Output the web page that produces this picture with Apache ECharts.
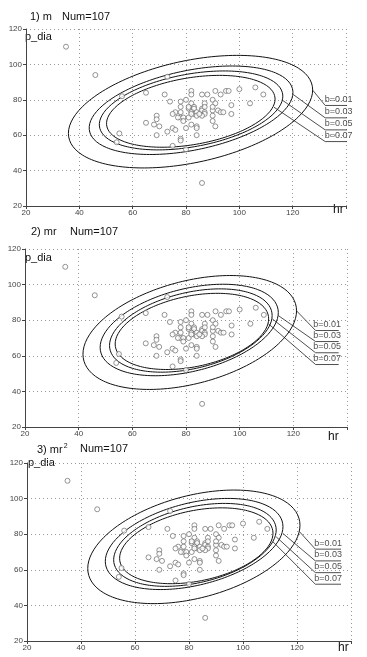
<!DOCTYPE html>
<html><head><meta charset="utf-8">
<script src="https://cdn.jsdelivr.net/npm/echarts@6/dist/echarts.min.js"></script>
<style>html,body{margin:0;padding:0;background:#fff}#c{width:367px;height:657px}</style>
</head><body><div id="c"></div><script>
// scatter data (hr, p_dia)
const hr = [35,46,56,55,54,65,65,73,86,
  72,82,82,86,88,91,93,95,96,100,106,109,104,
  74,78,80,82,83,87,90,91,97,
  83,86,81,76,75,78,82,83,84,86,87,90,92,93,94,97,
  78,79,81,82,84,87,90,79,69,69,68,70,75,76,73,80,82,84,84,90,91,69,78,78,84,75,80,
  78,81,90,87,86,77,85];
const pDia = [110,94,82,61,56,84,67,93,33,
  83,85,83,83,83,85,83,85,85,86,87,83,78,
  79,79,80,78,76,78,80,78,77,
  75,75,75,73,72,73,73,72,73,74,73,74,74,73,73,72,
  70,70,70,72,71,72,71,68,71,69,66,65,64,63,62,64,66,65,64,68,65,60,58,57,60,54,52,
  76,76,76,76,71,70,72];

const levels = ['b=0.01','b=0.03','b=0.05','b=0.07'];
const panelTitles = ['1) m','2) mr','3) mr{sup|2}'];
const numText = 'Num=107';
const xTicks = [20,40,60,80,100,120];
const yTicks = [20,40,60,80,100,120];

// ellipse per level: [centre hr, centre p_dia, half width, half height, cos(phase) = tilt]
const ellipses = [
  [[81.7,73.3,45.8,31.8,0.385],[81.9,74.1,38.2,25.0,0.40],[81.9,74.0,34.4,22.3,0.36],[81.8,73.5,31.6,20.3,0.34]],
  [[81.4,73.1,39.8,32.0,0.38],[81.2,74.5,33.2,25.7,0.38],[81.8,74.2,30.3,23.4,0.36],[82.2,73.7,28.6,21.4,0.33]],
  [[81.8,72.9,39.3,31.9,0.38],[81.9,74.5,32.9,25.6,0.38],[82.2,74.0,30.1,23.3,0.36],[82.7,73.5,28.4,21.3,0.33]]
];
// leader lines per level: [start hr, start p_dia, elbow hr, underline p_dia, end hr]
const leaders = [
  [[127.6,85.3,132.2,76.8,142.3],[120.2,83.0,132.2,69.8,142.3],[116.3,79.6,132.2,63.0,142.3],[113.0,75.8,132.2,56.4,142.3]],
  [[121.1,85.4,128.3,74.2,136.9],[114.4,82.6,128.3,68.0,136.9],[112.2,80.7,128.3,61.7,136.9],[110.7,78.0,128.3,55.1,136.9]],
  [[121.0,81.3,126.8,71.6,136.3],[114.8,80.4,126.8,65.0,136.3],[112.3,78.5,126.8,58.4,136.3],[111.1,75.7,126.8,51.9,136.3]]
];

const grids = [
  {left:26, top:29, width:320, height:177},
  {left:25, top:249, width:322, height:178},
  {left:27, top:463, width:324, height:178}
];
const titlePos = [[30,11,62],[31,226,70],[37,443,80]];
const pdiaPos = [[25,31],[25,252],[28,457]];
const hrPos = [[333,204],[328,431],[338,642]];

const FONT = '"Liberation Sans", Arial, sans-serif';
const chart = echarts.init(document.getElementById('c'), null, {renderer:'canvas'});

function ellipsePts(e){
  const [cx,cy,a,b,c] = e; const d = Math.acos(c); const pts = [];
  for (let i=0;i<=180;i++){ const t = i/180*2*Math.PI; pts.push([cx + a*Math.cos(t), cy + b*Math.cos(t + d)]); }
  return pts;
}

const xAxis = [], yAxis = [], series = [], title = [], graphic = [];
grids.forEach((g,i)=>{
  xAxis.push({gridIndex:i, type:'value', min:20, max:140, interval:20,
    axisLine:{show:true,onZero:false,lineStyle:{color:'#444',width:1}},
    axisTick:{show:true,length:3,lineStyle:{color:'#444'}},
    axisLabel:{fontSize:8,color:'#444',margin:3,fontFamily:FONT,formatter:v=>xTicks.includes(v)?String(v):''},
    splitLine:{show:true,lineStyle:{type:[1,3],color:'#999',width:1}}});
  yAxis.push({gridIndex:i, type:'value', min:20, max:120, interval:20,
    axisLine:{show:true,onZero:false,lineStyle:{color:'#444',width:1}},
    axisTick:{show:true,length:3,lineStyle:{color:'#444'}},
    axisLabel:{fontSize:8,color:'#444',margin:4,fontFamily:FONT,formatter:v=>yTicks.includes(v)?String(v):''},
    splitLine:{show:true,lineStyle:{type:[1,3],color:'#999',width:1}}});
  ellipses[i].forEach(e=>{
    series.push({type:'line', xAxisIndex:i, yAxisIndex:i, data:ellipsePts(e), symbol:'none', smooth:false,
      lineStyle:{color:'#111',width:1}, silent:true, clip:false, z:2});
  });
  leaders[i].forEach((l,k)=>{
    const [sx,sy,ex,uy,endx] = l;
    series.push({type:'line', xAxisIndex:i, yAxisIndex:i, symbol:'none', clip:false, silent:true, z:2,
      lineStyle:{color:'#222',width:0.8},
      data:[[sx,sy],[ex,uy],[endx,uy]]});
  });
  series.push({type:'scatter', xAxisIndex:i, yAxisIndex:i, clip:false, silent:true, z:4,
    symbol:'circle', symbolSize:1, itemStyle:{color:'rgba(0,0,0,0)'},
    label:{show:true, position:'top', distance:1, fontSize:9, color:'#222', fontFamily:FONT,
      formatter:p=>levels[p.dataIndex]},
    data:leaders[i].map(l=>[(l[2]+l[4])/2, l[3]])});
  series.push({type:'scatter', xAxisIndex:i, yAxisIndex:i, data:hr.map((h,j)=>[h,pDia[j]]),
    symbol:'circle', symbolSize:5, itemStyle:{color:'#fff',borderColor:'#6a6a6a',borderWidth:0.9}, z:3, silent:true});
  title.push({text:panelTitles[i], left:titlePos[i][0], top:titlePos[i][1], padding:0,
    textStyle:{fontSize:11,fontWeight:'normal',color:'#111',fontFamily:FONT,
      rich:{sup:{fontSize:7,verticalAlign:'top',padding:[0,0,6,1],color:'#111',fontFamily:FONT}}}});
  title.push({text:numText, left:titlePos[i][2], top:titlePos[i][1], padding:0,
    textStyle:{fontSize:11,fontWeight:'normal',color:'#111',fontFamily:FONT}});
  graphic.push({type:'text', left:pdiaPos[i][0], top:pdiaPos[i][1], style:{text:'p_dia', font:'11px '+FONT, fill:'#111'}});
  graphic.push({type:'text', left:hrPos[i][0], top:hrPos[i][1], style:{text:'hr', font:'12px '+FONT, fill:'#111'}});
});

chart.setOption({animation:false, backgroundColor:'#fff', grid:grids, xAxis, yAxis, series, title, graphic});
</script></body></html>
